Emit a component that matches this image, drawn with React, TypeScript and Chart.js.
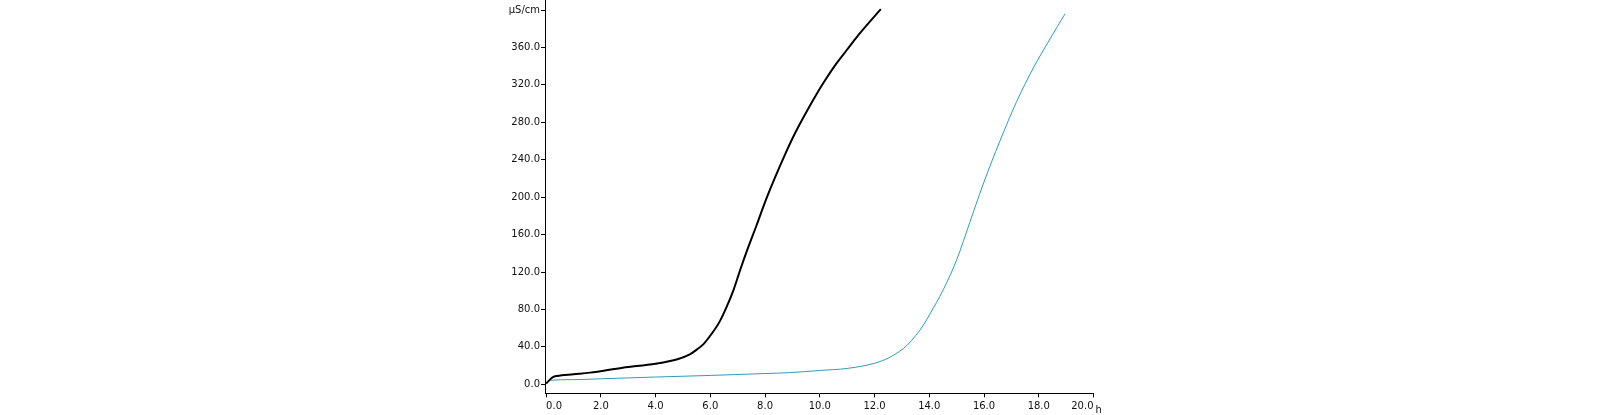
import { useEffect, useRef } from 'react'
import { Chart, registerables } from 'chart.js'

Chart.register(...registerables)

// black run: time (h) / conductivity (µS/cm)
const TIME_A = [0, 0.12, 0.25, 0.4, 1.0, 1.6, 2.8, 4.0, 4.8, 5.25, 5.5, 5.75, 6.05, 6.34, 6.6, 6.85, 7.1, 7.38, 7.69, 7.99, 8.35, 8.72, 9.09, 9.51, 9.88, 10.24, 10.61, 10.98, 11.46, 12.23]
const COND_A = [0.7, 4.5, 7.8, 9, 10.8, 12.5, 17.8, 22, 26.8, 32, 37, 43, 54, 67, 83, 101, 123, 146, 170, 194, 220, 245, 268, 291, 310, 327, 343, 357, 375, 401]

// cyan run
const TIME_B = [0, 0.13, 1, 2, 4, 6, 8, 8.9, 10, 11, 12, 12.5, 12.9, 13.2, 13.5, 13.78, 14.02, 14.51, 15.0, 15.48, 15.97, 16.58, 17.19, 17.8, 18.41, 18.96]
const COND_B = [1.4, 4.3, 5, 5.9, 7.8, 9.5, 11.5, 12.5, 14.8, 17, 22.5, 28, 35, 42, 52, 63, 75, 101, 133, 173, 214, 260, 302, 338, 369, 396]

const X_TICKS = [0, 2, 4, 6, 8, 10, 12, 14, 16, 18, 20]
const Y_TICKS = [0, 40, 80, 120, 160, 200, 240, 280, 320, 360, 400]
const Y_UNIT = 'µS/cm'
const X_UNIT = 'h'

const C_A = '#000000'
const C_B = '#2f9db8'
const FONT = { family: '"DejaVu Sans", sans-serif', size: 10 }

const unitLabel = {
  id: 'unitLabel',
  afterDraw(chart: Chart) {
    const { ctx, scales } = chart
    const x = scales.x
    ctx.save()
    ctx.fillStyle = '#111'
    ctx.font = '10px "DejaVu Sans", sans-serif'
    ctx.textAlign = 'left'
    ctx.textBaseline = 'middle'
    ctx.fillText(X_UNIT, x.right + 2, 410)
    ctx.restore()
  },
}

export default function App() {
  const canvasRef = useRef<HTMLCanvasElement | null>(null)

  useEffect(() => {
    if (!canvasRef.current) return undefined
    const chart = new Chart(canvasRef.current, {
      type: 'line',
      data: {
        datasets: [
          {
            data: TIME_A.map((t, i) => ({ x: t, y: COND_A[i] })),
            borderColor: C_A,
            borderWidth: 2,
            pointRadius: 0,
            cubicInterpolationMode: 'monotone',
          },
          {
            data: TIME_B.map((t, i) => ({ x: t, y: COND_B[i] })),
            borderColor: C_B,
            borderWidth: 1,
            pointRadius: 0,
            cubicInterpolationMode: 'monotone',
          },
        ],
      },
      options: {
        animation: false,
        responsive: true,
        maintainAspectRatio: false,
        layout: { padding: { left: 0, right: 506.5, top: 0, bottom: 0 } },
        plugins: { legend: { display: false }, tooltip: { enabled: false } },
        scales: {
          x: {
            type: 'linear',
            min: -0.04,
            max: 20,
            afterBuildTicks: (scale) => {
              scale.ticks = X_TICKS.map((v) => ({ value: v }))
            },
            afterFit: (scale) => {
              scale.height = 21.7
              scale.paddingLeft = 0
              scale.paddingRight = 0
            },
            ticks: {
              color: '#111',
              font: FONT,
              padding: 3,
              align: 'inner',
              maxRotation: 0,
              callback: (v) => Number(v).toFixed(1),
            },
            grid: { drawOnChartArea: false, drawTicks: true, tickLength: 4, color: '#000' },
            border: { color: '#000', width: 1 },
          },
          y: {
            min: -9.6,
            max: 410.7,
            afterBuildTicks: (scale) => {
              scale.ticks = Y_TICKS.map((v) => ({ value: v }))
            },
            afterFit: (scale) => {
              scale.width = 545
              scale.paddingTop = 0
              scale.paddingBottom = 0
            },
            ticks: {
              color: '#111',
              font: FONT,
              padding: 1,
              callback: (v) => (Number(v) === 400 ? Y_UNIT : Number(v).toFixed(1)),
            },
            grid: { drawOnChartArea: false, drawTicks: true, tickLength: 4, color: '#000' },
            border: { color: '#000', width: 1 },
          },
        },
      },
      plugins: [unitLabel],
    })
    return () => chart.destroy()
  }, [])

  return (
    <div style={{ position: 'absolute', left: 0, top: 0, width: 1600, height: 415, background: '#fff' }}>
      <canvas ref={canvasRef} />
    </div>
  )
}
